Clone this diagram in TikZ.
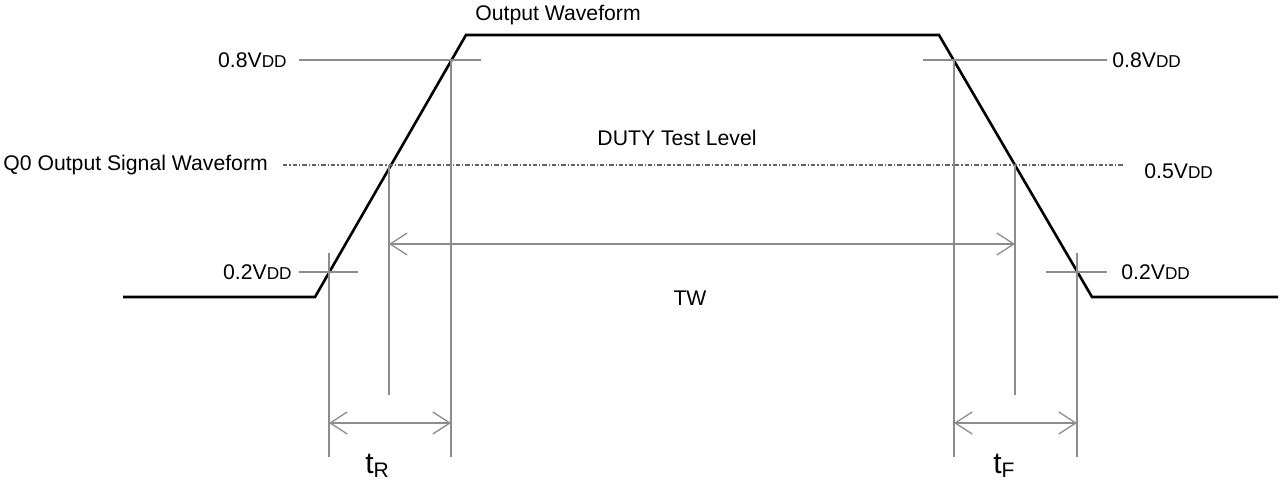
\documentclass[tikz,border=0pt]{standalone}
\usepackage{fontspec}
\setmainfont{Liberation Sans}
\usepackage{tikz}
\usetikzlibrary{arrows.meta, positioning}

\definecolor{guidegray}{RGB}{140,140,140}
\definecolor{levelgray}{RGB}{100,100,100}

\newcommand{\vdd}[1]{#1V{\fontsize{8.6}{10}\selectfont DD}}

\begin{document}
\begin{tikzpicture}[
    x=0.5pt, y=-0.5pt,
    wave/.style={line width=1.3pt, line join=miter},
    guide/.style={draw=guidegray, line width=0.65pt},
    level/.style={draw=levelgray, line width=0.6pt,
        dash pattern=on 2.2pt off 1pt on 0.6pt off 1pt},
    dim/.style={
        guide,
        {Straight Barb[length=8.5pt,width=11pt]}-{Straight Barb[length=8.5pt,width=11pt]}
    },
    lbl/.style={font=\fontsize{10.6}{12}\selectfont, inner sep=0pt},
    tlbl/.style={font=\fontsize{15}{16}\selectfont, inner sep=0pt}
]
  \useasboundingbox (0,0) rectangle (1281,481);

  % waveform corners
  \coordinate (low0) at (123,297);
  \coordinate (rise0) at (315,297);
  \coordinate (rise1) at (466,35);
  \coordinate (fall0) at (939,35);
  \coordinate (fall1) at (1092,297);
  \coordinate (low1) at (1278,297);

  \draw[wave] (low0) -- (rise0) -- (rise1) -- (fall0) -- (fall1) -- (low1);

  % level lines
  \coordinate (hiL0) at (299,60);   \coordinate (hiL1) at (481,60);
  \coordinate (hiR0) at (923,60);   \coordinate (hiR1) at (1107,60);
  \coordinate (mid0) at (283,165);  \coordinate (mid1) at (1123,165);
  \coordinate (loL0) at (299,272);  \coordinate (loL1) at (358,272);
  \coordinate (loR0) at (1046,272); \coordinate (loR1) at (1107,272);

  \draw[guide] (hiL0) -- (hiL1);
  \draw[guide] (hiR0) -- (hiR1);
  \draw[level] (mid0) -- (mid1);
  \draw[guide] (loL0) -- (loL1);
  \draw[guide] (loR0) -- (loR1);

  % extension lines
  \coordinate (rlo0) at (329,253);  \coordinate (rlo1) at (329,457);
  \coordinate (rmd0) at (389,165);  \coordinate (rmd1) at (389,395);
  \coordinate (rhi0) at (451,60);   \coordinate (rhi1) at (451,457);
  \coordinate (fhi0) at (954,60);   \coordinate (fhi1) at (954,457);
  \coordinate (fmd0) at (1015,165); \coordinate (fmd1) at (1015,395);
  \coordinate (flo0) at (1077,253); \coordinate (flo1) at (1077,457);

  \draw[guide] (rlo0) -- (rlo1);
  \draw[guide] (rmd0) -- (rmd1);
  \draw[guide] (rhi0) -- (rhi1);
  \draw[guide] (fhi0) -- (fhi1);
  \draw[guide] (fmd0) -- (fmd1);
  \draw[guide] (flo0) -- (flo1);

  % dimensions
  \coordinate (twA) at (389,244);  \coordinate (twB) at (1015,244);
  \coordinate (trA) at (329,423);  \coordinate (trB) at (451,423);
  \coordinate (tfA) at (954,423);  \coordinate (tfB) at (1077,423);

  \draw[dim] (twA) -- (twB);
  \draw[dim] (trA) -- (trB);
  \draw[dim] (tfA) -- (tfB);

  % labels
  \node[lbl] (outwave) at (558,15) {Output Waveform};
  \node[lbl] (duty) at (677,138) {DUTY Test Level};
  \node[lbl, anchor=west] (q0) at (3,165) {Q0 Output Signal Waveform};
  \node[lbl, left=6pt of hiL0] (hiLlbl) {\vdd{0.8}};
  \node[lbl, right=2.5pt of hiR1] (hiRlbl) {\vdd{0.8}};
  \node[lbl, anchor=west] (midlbl) at (1144,171) {\vdd{0.5}};
  \node[lbl, left=3.5pt of loL0] (loLlbl) {\vdd{0.2}};
  \node[lbl, right=7pt of loR1] (loRlbl) {\vdd{0.2}};
  \node[lbl] (tw) at (690,298) {TW};
  \node[tlbl, anchor=base west] (tr) at (365,473) {t\textsubscript{R}};
  \node[tlbl, anchor=base west] (tf) at (993,473) {t\textsubscript{F}};
\end{tikzpicture}
\end{document}
